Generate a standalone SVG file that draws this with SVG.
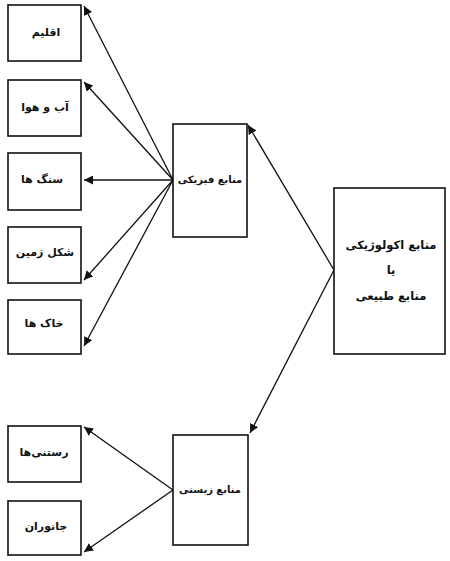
<svg xmlns="http://www.w3.org/2000/svg" width="450" height="561" viewBox="0 0 450 561">
<style>
.box{fill:#fff;stroke:#111;stroke-width:1.6}
.lbl{font-family:"DejaVu Sans",sans-serif;font-weight:bold;font-size:11px;fill:#111;text-anchor:middle;dominant-baseline:middle}
.mid{font-size:10px}
.big{font-size:11.5px}
.con{stroke:#111;stroke-width:1.3;fill:none;marker-end:url(#ah)}
</style>
<defs>
<marker id="ah" viewBox="0 0 10 10" refX="10" refY="5" markerWidth="9" markerHeight="9" markerUnits="userSpaceOnUse" orient="auto">
<path d="M0,0 L10,5 L0,10 z" fill="#111"/>
</marker>
</defs>
<rect width="450" height="561" fill="#fff"/>
<g id="connectors">
<line class="con" x1="173" y1="180" x2="84" y2="6"/>
<line class="con" x1="173" y1="180" x2="84" y2="82"/>
<line class="con" x1="173" y1="180" x2="84" y2="180"/>
<line class="con" x1="173" y1="180" x2="84" y2="280"/>
<line class="con" x1="173" y1="180" x2="84" y2="346"/>
<line class="con" x1="334" y1="270" x2="248" y2="125"/>
<line class="con" x1="334" y1="270" x2="250" y2="433"/>
<line class="con" x1="173" y1="490" x2="84" y2="427"/>
<line class="con" x1="173" y1="490" x2="84" y2="552"/>
</g>
<g id="n-eqlim"><rect class="box" x="8" y="5" width="73" height="56"/><text class="lbl" x="46" y="33">اقلیم</text></g>
<g id="n-abohava"><rect class="box" x="8" y="80" width="73" height="56"/><text class="lbl" x="45" y="108">آب و هوا</text></g>
<g id="n-sangha"><rect class="box" x="8" y="153" width="73" height="57"/><text class="lbl" x="42" y="180">سنگ ها</text></g>
<g id="n-shekl"><rect class="box" x="8" y="227" width="73" height="56"/><text class="lbl" x="45" y="253">شکل زمین</text></g>
<g id="n-khak"><rect class="box" x="8" y="300" width="73" height="54"/><text class="lbl" x="44" y="324">خاک ها</text></g>
<g id="n-physical"><rect class="box" x="173" y="124" width="74" height="113"/><text class="lbl mid" x="210" y="180">منابع فیزیکی</text></g>
<g id="n-eco"><rect class="box" x="334" y="188" width="111" height="166"/>
<text class="lbl big" x="391" y="245">منابع اکولوژیکی</text>
<text class="lbl big" x="391" y="270">یا</text>
<text class="lbl big" x="391" y="296">منابع طبیعی</text></g>
<g id="n-rostani"><rect class="box" x="8" y="426" width="73" height="56"/><text class="lbl" x="44" y="453">رستنی‌ها</text></g>
<g id="n-janevaran"><rect class="box" x="8" y="501" width="73" height="54"/><text class="lbl" x="46" y="527">جانوران</text></g>
<g id="n-bio"><rect class="box" x="173" y="435" width="75" height="110"/><text class="lbl mid" x="210" y="490">منابع زیستی</text></g>
</svg>
